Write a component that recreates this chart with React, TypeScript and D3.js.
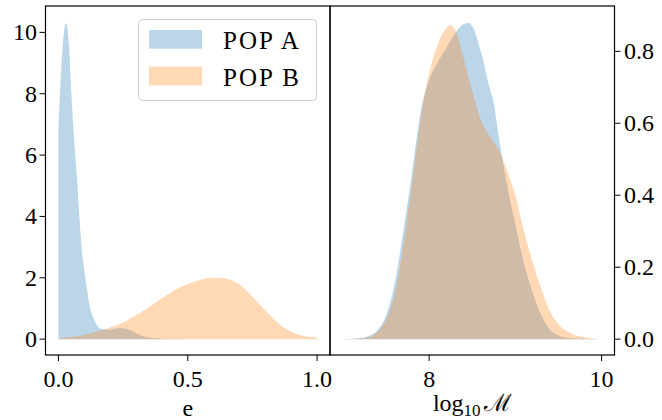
import * as d3 from "d3";

const W = 662;
const H = 420;
const FONT = "'Liberation Serif', 'DejaVu Serif', serif";

// left panel: eccentricity e
const eGridA = [0, 0.005, 0.01, 0.015, 0.02, 0.028, 0.035, 0.04, 0.05, 0.06, 0.07, 0.08, 0.09, 0.1, 0.11, 0.12, 0.13, 0.14, 0.15, 0.17, 0.2, 0.22, 0.24, 0.26, 0.28, 0.3, 0.33, 0.36, 0.4, 0.45, 0.5];
const eDensityA = [6.9, 7.8, 8.7, 9.4, 9.9, 10.3, 10.1, 9.7, 8.0, 6.6, 5.45, 4.1, 2.95, 2.25, 1.65, 1.1, 0.8, 0.6, 0.44, 0.33, 0.31, 0.34, 0.36, 0.34, 0.28, 0.19, 0.09, 0.04, 0.01, 0.003, 0];
const eGridB = [0, 0.05, 0.1, 0.15, 0.2, 0.25, 0.3, 0.35, 0.4, 0.45, 0.5, 0.55, 0.6, 0.65, 0.7, 0.75, 0.8, 0.85, 0.9, 0.95, 1.0];
const eDensityB = [0.02, 0.07, 0.14, 0.25, 0.38, 0.54, 0.78, 1.04, 1.33, 1.6, 1.8, 1.94, 2.0, 1.97, 1.78, 1.38, 0.93, 0.52, 0.24, 0.1, 0.05];

// right panel: log10 M
const mGridA = [7.0, 7.1, 7.2, 7.3, 7.4, 7.5, 7.6, 7.7, 7.8, 7.85, 7.9, 8.0, 8.1, 8.2, 8.3, 8.4, 8.46, 8.5, 8.6, 8.7, 8.75, 8.8, 8.9, 9.0, 9.1, 9.2, 9.3, 9.4, 9.5, 9.6, 9.8, 10.0];
const mDensityA = [0, 0.001, 0.003, 0.009, 0.025, 0.066, 0.155, 0.3, 0.46, 0.55, 0.63, 0.72, 0.77, 0.81, 0.85, 0.876, 0.879, 0.87, 0.8, 0.7, 0.655, 0.575, 0.433, 0.32, 0.21, 0.13, 0.068, 0.027, 0.01, 0.004, 0.001, 0];
const mGridB = [7.0, 7.1, 7.2, 7.3, 7.4, 7.5, 7.6, 7.7, 7.8, 7.9, 8.0, 8.1, 8.2, 8.24, 8.3, 8.4, 8.5, 8.6, 8.7, 8.8, 8.9, 9.0, 9.1, 9.2, 9.3, 9.4, 9.5, 9.6, 9.7, 9.8, 9.9, 10.0];
const mDensityB = [0, 0.0005, 0.002, 0.005, 0.02, 0.055, 0.125, 0.26, 0.43, 0.61, 0.74, 0.82, 0.865, 0.873, 0.86, 0.78, 0.69, 0.61, 0.565, 0.53, 0.47, 0.4, 0.3, 0.215, 0.14, 0.078, 0.042, 0.022, 0.011, 0.005, 0.002, 0];

const eTicks = [0, 0.5, 1.0];
const eYTicks = [0, 2, 4, 6, 8, 10];
const mTicks = [8, 10];
const mYTicks = [0, 0.2, 0.4, 0.6, 0.8];
const legendLabels = ["POP A", "POP B"];

const BLUE = "#1f77b4";
const ORANGE = "#ff7f0e";
const ALPHA = 0.3;

const top = 6;
const bottom = 355;
const split = 330;

const xE = d3.scaleLinear().domain([-0.05, 1.05]).range([45.5, split]);
const yE = d3.scaleLinear().domain([-0.517, 10.86]).range([bottom, top]);
const xM = d3.scaleLinear().domain([6.85, 10.15]).range([split, 614.5]);
const yM = d3.scaleLinear().domain([-0.044, 0.926]).range([bottom, top]);

function areaPath(xs: number[], ys: number[], x: any, y: any) {
  const pts = xs.map((v, i) => [v, ys[i]] as [number, number]);
  return d3
    .area<[number, number]>()
    .x((d) => x(d[0]))
    .y0(y(0))
    .y1((d) => y(d[1]))
    .curve(d3.curveMonotoneX)(pts) as string;
}

const App = () => {
  const tickLen = 6;
  return (
    <svg width={W} height={H} style={{ position: "absolute", left: 0, top: 0 }} fontFamily={FONT}>
      <rect width={W} height={H} fill="white" />

      {/* left panel */}
      <path d={areaPath(eGridA, eDensityA, xE, yE)} fill={BLUE} fillOpacity={ALPHA} />
      <path d={areaPath(eGridB, eDensityB, xE, yE)} fill={ORANGE} fillOpacity={ALPHA} />

      {/* right panel */}
      <path d={areaPath(mGridA, mDensityA, xM, yM)} fill={BLUE} fillOpacity={ALPHA} />
      <path d={areaPath(mGridB, mDensityB, xM, yM)} fill={ORANGE} fillOpacity={ALPHA} />

      {/* frames */}
      <rect x={45.5} y={top} width={split - 45.5} height={bottom - top} fill="none" stroke="black" strokeWidth={1.2} />
      <rect x={split} y={top} width={614.5 - split} height={bottom - top} fill="none" stroke="black" strokeWidth={1.2} />

      {/* left axes */}
      {eTicks.map((t) => (
        <g key={"ex" + t}>
          <line x1={xE(t)} x2={xE(t)} y1={bottom} y2={bottom + tickLen} stroke="black" />
          <text x={xE(t)} y={387} fontSize={24} textAnchor="middle">{t.toFixed(1)}</text>
        </g>
      ))}
      {eYTicks.map((t) => (
        <g key={"ey" + t}>
          <line x1={45.5 - tickLen} x2={45.5} y1={yE(t)} y2={yE(t)} stroke="black" />
          <text x={37} y={yE(t) + 8} fontSize={24} textAnchor="end">{t}</text>
        </g>
      ))}
      <text x={(45.5 + split) / 2} y={416} fontSize={24} textAnchor="middle">e</text>

      {/* right axes */}
      {mTicks.map((t) => (
        <g key={"mx" + t}>
          <line x1={xM(t)} x2={xM(t)} y1={bottom} y2={bottom + tickLen} stroke="black" />
          <text x={xM(t)} y={387} fontSize={24} textAnchor="middle">{t}</text>
        </g>
      ))}
      {mYTicks.map((t) => (
        <g key={"my" + t}>
          <line x1={614.5} x2={614.5 + tickLen} y1={yM(t)} y2={yM(t)} stroke="black" />
          <text x={624} y={yM(t) + 8} fontSize={24} textAnchor="start">{t.toFixed(1)}</text>
        </g>
      ))}
      <text x={(split + 614.5) / 2} y={411} fontSize={24} textAnchor="middle">
        log<tspan fontSize={17} dy={5}>10</tspan>
        <tspan dy={-5} dx={3} fontFamily="'DejaVu Serif', serif">ℳ</tspan>
      </text>

      {/* legend */}
      <rect x={138.5} y={19.5} width={178} height={81} rx={4} fill="white" fillOpacity={0.8} stroke="#cccccc" strokeWidth={1} />
      {legendLabels.map((lab, i) => (
        <g key={lab}>
          <rect x={149} y={30 + i * 36.7} width={53} height={18.7} fill={i === 0 ? BLUE : ORANGE} fillOpacity={ALPHA} />
          <text x={223} y={49.3 + i * 36.7} fontSize={25} letterSpacing={2}>{lab}</text>
        </g>
      ))}
    </svg>
  );
};

export default App;
